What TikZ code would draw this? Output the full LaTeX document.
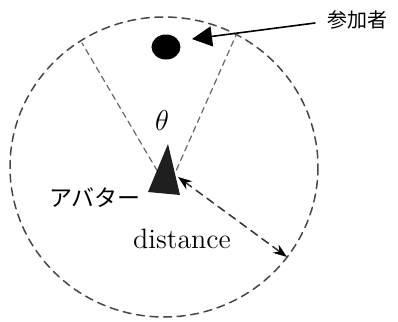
\documentclass[tikz,border=0pt]{standalone}
\usepackage{fontspec}
\newfontfamily\jpfont{Noto Sans CJK JP}
\usetikzlibrary{arrows.meta}

\begin{document}
\begin{tikzpicture}[
				x=0.5pt, y=-0.5pt,
				every node/.style={font=\fontsize{14}{16}\selectfont, inner sep=0pt},
				line cap=round,
				line join=round
				]
				\useasboundingbox (0,0) rectangle (398,322);
				
				% Range
				\coordinate (centre) at (164,167);
				\draw[black!72, line width=0.75pt, dash pattern=on 4pt off 2.8pt]
				(centre) ellipse [x radius=154, y radius=150];
				
				% View lines
				\coordinate (eye) at (168,189);
				\coordinate (viewL) at (82,43);
				\coordinate (viewR) at (237,33);
				\draw[black!60, line width=0.6pt, dash pattern=on 3pt off 2.2pt]
				(eye) -- (viewL) (eye) -- (viewR);
				
				% Avatar
				\coordinate (apex) at (168,144);
				\coordinate (baseL) at (148,192);
				\coordinate (baseR) at (180,195);
				\fill[black!88] (apex) -- (baseL) -- (baseR) -- cycle;
				
				% Participant
				\coordinate (guest) at (166,47);
				\fill (guest) ellipse [x radius=14.5, y radius=12.5];
				
				% Labels
				\node (theta) at (162,120) {$\theta$};
				\node (avatarlabel) at (95,198) {\fontsize{11.5}{13}\jpfont アバター};
				\node (distlabel) at (182,239) {distance};
				\node (guestlabel) at (358,20) {\fontsize{10}{12}\jpfont 参加者};
				
				% Pointer to participant
				\coordinate (guestfrom) at (315,23);
				\coordinate (guestto) at (192,39);
				\draw[line width=0.8pt, -{Triangle[length=10pt,width=10pt]}]
				(guestfrom) -- (guestto);
				
				% Distance
				\coordinate (near) at (178,177);
				\coordinate (rim) at (287,257);
				\draw[black!80, line width=0.75pt, dash pattern=on 4pt off 2.8pt,
				{Stealth[length=7pt,width=5pt,black]}-{Stealth[length=7pt,width=5pt,black]}]
				(near) -- (rim);
				
			\end{tikzpicture}
\end{document}
